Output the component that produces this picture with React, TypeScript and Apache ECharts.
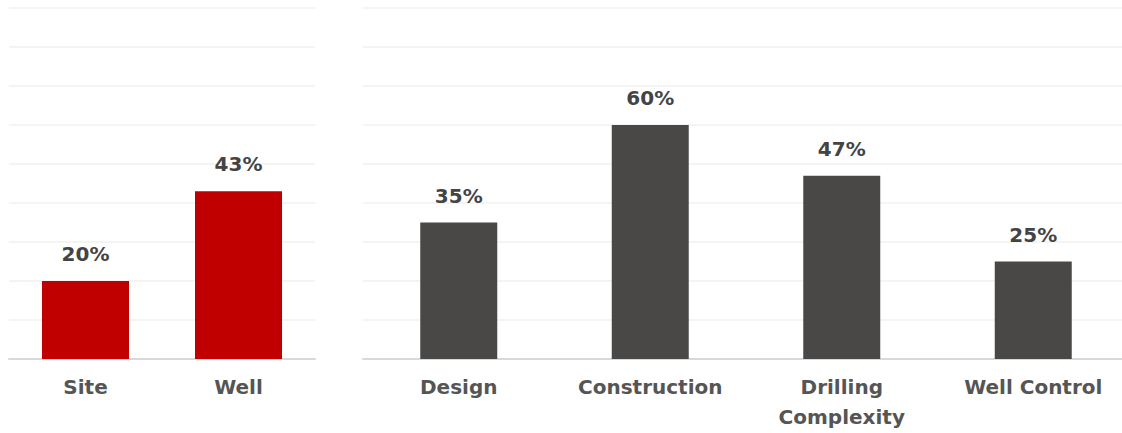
import React, { useEffect, useRef } from "react";
import * as echarts from "echarts";

const leftCategories = ["Site", "Well"];
const leftValues = [20, 43];
const rightCategories = ["Design", "Construction", "Drilling\nComplexity", "Well Control"];
const rightValues = [35, 60, 47, 25];
const yMax = 90;
const yInterval = 10;

const FONT = "DejaVu Sans";

export default function App() {
  const ref = useRef<HTMLDivElement>(null);
  useEffect(() => {
    if (!ref.current) return;
    const chart = echarts.init(ref.current, null, { renderer: "svg" });
    const axisLabel = {
      color: "#555555",
      fontFamily: FONT,
      fontWeight: "bold" as const,
      fontSize: 20,
      lineHeight: 30,
      margin: 13,
      interval: 0,
    };
    const xCommon = {
      type: "category" as const,
      axisTick: { show: false },
      axisLine: { show: true, lineStyle: { color: "#d9d9d9", width: 2 } },
      axisLabel,
    };
    const yCommon = {
      type: "value" as const,
      min: 0,
      max: yMax,
      interval: yInterval,
      axisLabel: { show: false },
      axisLine: { show: false },
      axisTick: { show: false },
      splitLine: { show: true, lineStyle: { color: "#f0f0f0", width: 1.5 } },
    };
    const label = {
      show: true,
      position: "top" as const,
      distance: 17,
      color: "#444444",
      fontFamily: FONT,
      fontWeight: "bold" as const,
      fontSize: 20,
      formatter: "{c}%",
    };
    chart.setOption({
      animation: false,
      grid: [
        { left: 9, top: 8, width: 306, bottom: 74 },
        { left: 363, top: 8, width: 766, bottom: 74 },
      ],
      xAxis: [
        { ...xCommon, gridIndex: 0, data: leftCategories },
        { ...xCommon, gridIndex: 1, data: rightCategories },
      ],
      yAxis: [
        { ...yCommon, gridIndex: 0 },
        { ...yCommon, gridIndex: 1 },
      ],
      series: [
        {
          type: "bar",
          xAxisIndex: 0,
          yAxisIndex: 0,
          data: leftValues,
          barWidth: 87,
          itemStyle: { color: "#c00000" },
          label,
        },
        {
          type: "bar",
          xAxisIndex: 1,
          yAxisIndex: 1,
          data: rightValues,
          barWidth: 77,
          itemStyle: { color: "#494846" },
          label,
        },
      ],
    });
    return () => chart.dispose();
  }, []);
  return (
    <div
      style={{ position: "absolute", left: 0, top: 0, width: 1122, height: 433, overflow: "hidden", background: "#fff" }}
    >
      <div ref={ref} style={{ width: 1130, height: 433 }} />
    </div>
  );
}
